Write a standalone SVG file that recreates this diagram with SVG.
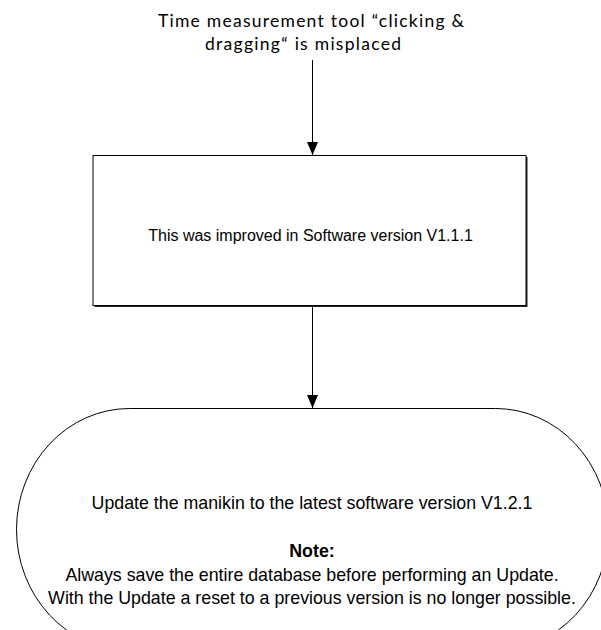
<svg xmlns="http://www.w3.org/2000/svg" width="601" height="630" viewBox="0 0 601 630">
<style>
.t{font-family:"Liberation Sans",Arial,sans-serif;font-size:17.8px;fill:#000;text-anchor:middle}
.c{font-family:Lato,"Open Sans",sans-serif;font-size:17.5px;fill:#000;text-anchor:middle}
.b{font-weight:bold}
.ln{stroke:#000;stroke-width:1;fill:none}
</style>
<defs>
<marker id="ah" markerUnits="userSpaceOnUse" markerWidth="13" markerHeight="12" refX="13" refY="5.5" orient="auto">
<path d="M0,0 L13,5.5 L0,11 Z" fill="#000"/>
</marker>
</defs>
<rect width="601" height="630" fill="#fff"/>
<g id="start">
<text class="c" x="311" y="27" textLength="306" lengthAdjust="spacing">Time measurement tool “clicking &amp;</text>
<text class="c" x="303" y="50" textLength="196" lengthAdjust="spacing">dragging“ is misplaced</text>
</g>
<g id="process">
<rect x="94.5" y="157" width="433" height="150" fill="#222"/>
<rect x="93" y="155.5" width="433" height="150" fill="#fff" stroke="#000" stroke-width="1"/>
<text class="t" x="310.5" y="241" style="font-size:16px">This was improved in Software version V1.1.1</text>
</g>
<g id="terminator">
<rect x="16.5" y="408.5" width="592" height="242" rx="113" ry="121" fill="#fff" stroke="#000" stroke-width="1"/>
<text class="t" x="312" y="509">Update the manikin to the latest software version V1.2.1</text>
<text class="t b" x="312" y="557">Note:</text>
<text class="t" x="312" y="581">Always save the entire database before performing an Update.</text>
<text class="t" x="312" y="604">With the Update a reset to a previous version is no longer possible.</text>
</g>
<g id="connectors">
<line class="ln" x1="312.5" y1="60" x2="312.5" y2="155" marker-end="url(#ah)"/>
<line class="ln" x1="312.5" y1="307" x2="312.5" y2="408" marker-end="url(#ah)"/>
</g>
</svg>
